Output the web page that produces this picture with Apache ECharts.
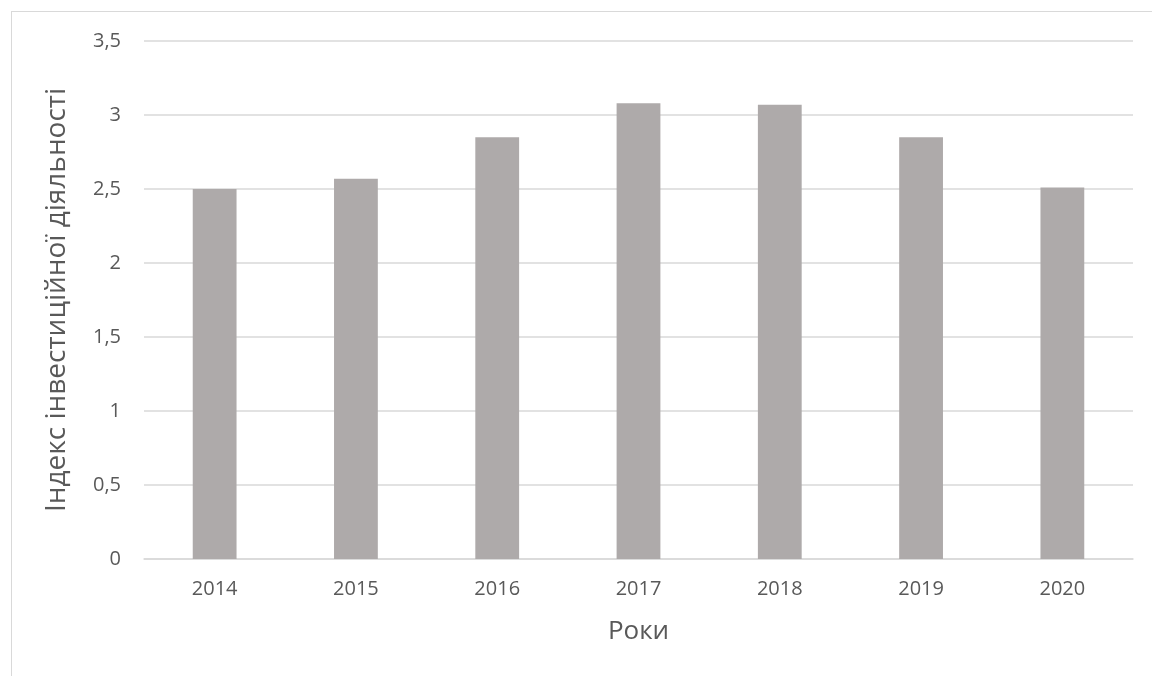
<!DOCTYPE html>
<html>
<head>
<meta charset="utf-8">
<script src="https://cdn.jsdelivr.net/npm/echarts@6/dist/echarts.min.js"></script>
<style>
    html, body { margin: 0; padding: 0; background: #fff; }
    #frame { position: absolute; left: 11px; top: 11px; width: 1145px; height: 670px; border: 1px solid #d9d9d9; box-sizing: border-box; }
    #chart { position: absolute; left: 0; top: 0; width: 1152px; height: 676px; }
</style>
</head>
<body>
<div id="frame"></div>
<div id="chart"></div>
<script>
var years = ['2014', '2015', '2016', '2017', '2018', '2019', '2020'];
var index_values = [2.5, 2.57, 2.85, 3.08, 3.07, 2.85, 2.51];
var y_ticks = { min: 0, max: 3.5, step: 0.5 };

var chart = {
    render: function () {
        var myChart = echarts.init(document.getElementById('chart'));
        var font = '"Open Sans", sans-serif';
        var option = {
            animation: false,
            grid: { left: 144, right: 19, top: 41, bottom: 117 },
            xAxis: {
                type: 'category',
                data: years,
                name: 'Роки',
                nameLocation: 'middle',
                nameGap: 60,
                nameTextStyle: { fontSize: 26, color: '#595959', fontFamily: font },
                axisLine: { lineStyle: { color: '#d9d9d9', width: 1.5 } },
                axisTick: { show: false },
                axisLabel: { fontSize: 20, color: '#595959', fontFamily: font, margin: 20 }
            },
            yAxis: {
                type: 'value',
                min: y_ticks.min,
                max: y_ticks.max,
                interval: y_ticks.step,
                name: 'Індекс інвестиційної діяльності',
                nameLocation: 'middle',
                nameGap: 73,
                nameTextStyle: { fontSize: 28, color: '#595959', fontFamily: font },
                axisLine: { show: false },
                axisTick: { show: false },
                splitLine: { lineStyle: { color: '#d9d9d9', width: 1.5 } },
                axisLabel: {
                    fontSize: 20, color: '#595959', fontFamily: font, margin: 23,
                    formatter: function (v) { return String(v).replace('.', ','); }
                }
            },
            series: [{
                type: 'bar',
                data: index_values,
                barWidth: '31%',
                itemStyle: { color: '#aeaaaa' }
            }]
        };
        myChart.setOption(option);
    }
};

chart.render();
</script>
</body>
</html>
